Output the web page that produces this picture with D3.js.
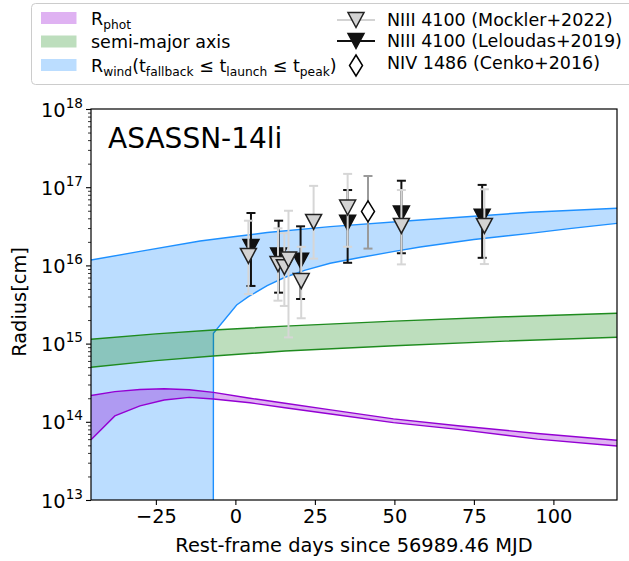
<!DOCTYPE html>
<html><head><meta charset="utf-8">
<script src="https://cdn.jsdelivr.net/npm/d3@7"></script>
<style>
body{margin:0;background:#fff;}
text{font-family:"DejaVu Sans",sans-serif;fill:#000;}
</style>
</head><body>
<svg id="c" width="629" height="561"></svg>
<script>
// ---------- data ----------
const xDomain = [-45.4, 120];
const yDomain = [1e13, 1e18];
const xTicks = [-25, 0, 25, 50, 75, 100];
const yTickExps = [13, 14, 15, 16, 17, 18];

// photosphere radius band
const photDays  = [-45.4, -37.9, -30.0, -22.4, -14.5, -6.9, 4.6, 15.6, 30, 49.7, 70, 95, 120];
const photUpper = [2.17e14, 2.43e14, 2.59e14, 2.65e14, 2.57e14, 2.38e14, 2.0e14, 1.73e14, 1.42e14, 1.09e14, 8.9e13, 7.1e13, 5.8e13];
const photLower = [5.9e13, 1.19e14, 1.6e14, 1.9e14, 2.05e14, 1.96e14, 1.75e14, 1.51e14, 1.26e14, 9.75e13, 8.0e13, 6.0e13, 4.9e13];

// semi-major axis band
const smaDays  = [-45.4, -25, -6.9, 15.6, 50, 85, 120];
const smaUpper = [1.135e15, 1.33e15, 1.49e15, 1.675e15, 1.94e15, 2.2e15, 2.44e15];
const smaLower = [4.98e14, 6.05e14, 6.93e14, 8.04e14, 9.4e14, 1.076e15, 1.205e15];

// wind radius band
const windUpDays = [-45.4, -30, -11.1, 0, 10, 29.8, 58.1, 92.7, 120];
const windUpper  = [1.17e16, 1.51e16, 2.05e16, 2.34e16, 2.63e16, 3.13e16, 3.81e16, 4.78e16, 5.37e16];
const windLoDays = [-45.4, -6.95, -6.9, 0.4, 4.1, 10, 15.6, 22, 29.8, 39.2, 50, 58.1, 75, 92.7, 105, 120];
const windLower  = [1e12, 1e12, 1.355e15, 3.12e15, 3.98e15, 5.5e15, 7.05e15, 8.71e15, 1.064e16, 1.26e16, 1.51e16, 1.72e16, 2.14e16, 2.57e16, 2.95e16, 3.45e16];

// NIII 4100 (Mockler+2022)
const mockDays = [4.1, 13.4, 15.4, 16.7, 20.7, 24.6, 35.3, 52.2, 78.3];
const mockR    = [1.32e16, 1.04e16, 9.5e15, 1.19e16, 6.3e15, 3.6e16, 5.5e16, 3.2e16, 3.2e16];
const mockLo   = [4.3e15, 3.54e15, 3.03e15, 1.2e15, 2.11e15, 1.22e16, 1.73e16, 1.03e16, 1.04e16];
const mockHi   = [3.73e16, 2.98e16, 2.58e16, 5.0e16, 1.73e16, 1.04e17, 1.48e17, 9.2e16, 9.4e16];

// NIII 4100 (Leloudas+2019)
const lelDays = [4.9, 13.6, 20.5, 35.3, 52.2, 77.6];
const lelR    = [1.72e16, 1.34e16, 1.15e16, 3.5e16, 4.6e16, 4.2e16];
const lelLo   = [5.46e15, 4.48e15, 3.72e15, 1.08e16, 1.43e16, 1.25e16];
const lelHi   = [4.68e16, 3.73e16, 3.16e16, 9.2e16, 1.21e17, 1.07e17];

// NIV 1486 (Cenko+2016)
const cenDays = [41.7];
const cenR    = [4.9e16];
const cenLo   = [1.64e16];
const cenHi   = [1.39e17];

const titleText = "ASASSN-14li";
const xLabel = "Rest-frame days since 56989.46 MJD";
const yLabel = "Radius[cm]";
// legend labels as [text, isSubscript] pieces
const bandLabels = [
  [["R",0],["phot",1]],
  [["semi-major axis",0]],
  [["R",0],["wind",1],["(t",0],["fallback",1],[" \u2264 t",0],["launch",1],[" \u2264 t",0],["peak",1],[")",0]]
];
const pointLabels = ["NIII 4100 (Mockler+2022)", "NIII 4100 (Leloudas+2019)", "NIV 1486 (Cenko+2016)"];

// ---------- drawing ----------
const svg = d3.select("#c");
const M = {l:91, r:617, t:109, b:500};
const x = d3.scaleLinear().domain(xDomain).range([M.l, M.r]);
const y = d3.scaleLog().domain(yDomain).range([M.b, M.t]);

svg.append("defs").append("clipPath").attr("id","clip")
  .append("rect").attr("x",M.l).attr("y",M.t).attr("width",M.r-M.l).attr("height",M.b-M.t);
const g = svg.append("g").attr("clip-path","url(#clip)");

const BLUE="#1e90ff", GREEN="#1f8b1f", PURPLE="#9400d3";
function band(dU, vU, dL, vL, fill, edge, op){
  const up = dU.map((d,i)=>[x(d), y(vU[i])]);
  const lo = dL.map((d,i)=>[x(d), y(vL[i])]);
  const line = d3.line();
  g.append("path").attr("d", line(up.concat(lo.slice().reverse()))+"Z")
    .attr("fill", fill).attr("fill-opacity", op).attr("stroke","none");
  g.append("path").attr("d", line(up)).attr("fill","none").attr("stroke",edge).attr("stroke-width",1.4);
  g.append("path").attr("d", line(lo)).attr("fill","none").attr("stroke",edge).attr("stroke-width",1.4);
}
band(windUpDays, windUpper, windLoDays, windLower, BLUE, BLUE, 0.3);
band(smaDays, smaUpper, smaDays, smaLower, "#008000", GREEN, 0.26);
band(photDays, photUpper, photDays, photLower, PURPLE, PURPLE, 0.3);

const triDown = "M-8,-7.5L8,-7.5L0,7.5Z";
const diamond = "M0,-10.5L6.5,0L0,10.5L-6.5,0Z";
function errSeries(days, vals, lo, hi, o){
  const gg = g.append("g");
  days.forEach((d,i)=>{
    const cx = x(d);
    gg.append("line").attr("x1",cx).attr("x2",cx).attr("y1",y(lo[i])).attr("y2",y(hi[i]))
      .attr("stroke",o.err).attr("stroke-width",2);
    [lo[i],hi[i]].forEach(v=>gg.append("line").attr("x1",cx-4.5).attr("x2",cx+4.5)
      .attr("y1",y(v)).attr("y2",y(v)).attr("stroke",o.err).attr("stroke-width",2));
  });
  days.forEach((d,i)=>{
    gg.append("path").attr("d",o.shape).attr("transform",`translate(${x(d)},${y(vals[i])})`)
      .attr("fill",o.fill).attr("stroke",o.edge).attr("stroke-width",1.5).attr("stroke-linejoin","miter");
  });
}
errSeries(lelDays, lelR, lelLo, lelHi, {err:"#111", fill:"#111", edge:"#111", shape:triDown});
errSeries(mockDays, mockR, mockLo, mockHi, {err:"#d6d6d6", fill:"#d3d3d3", edge:"#222", shape:triDown});
errSeries(cenDays, cenR, cenLo, cenHi, {err:"#9a9a9a", fill:"#fff", edge:"#000", shape:diamond});

// axes
const xAxis = d3.axisBottom(x).tickValues(xTicks).tickSize(5).tickPadding(4)
  .tickFormat(d=>d<0?"\u2212"+Math.abs(d):String(d));
const gx = svg.append("g").attr("transform",`translate(0,${M.b})`).call(xAxis);
gx.select(".domain").remove();
gx.selectAll("text").attr("font-size",19.4).attr("font-family","DejaVu Sans").attr("fill","#000");
gx.selectAll("line").attr("stroke","#000").attr("stroke-width",1.1);

const minorVals = [];
yTickExps.slice(0,-1).forEach(e=>{ for(let k=2;k<=9;k++) minorVals.push(k*Math.pow(10,e)); });
const gym = svg.append("g").attr("transform",`translate(${M.l},0)`)
  .call(d3.axisLeft(y).tickValues(minorVals).tickSize(3).tickFormat(""));
gym.select(".domain").remove();
gym.selectAll("line").attr("stroke","#000").attr("stroke-width",0.8);

const majorVals = yTickExps.map(e=>Math.pow(10,e));
const gy = svg.append("g").attr("transform",`translate(${M.l},0)`)
  .call(d3.axisLeft(y).tickValues(majorVals).tickSize(5).tickFormat(""));
gy.select(".domain").remove();
gy.selectAll("line").attr("stroke","#000").attr("stroke-width",1.1);
yTickExps.forEach(e=>{
  const t = svg.append("text").attr("x",M.l-8).attr("y",y(Math.pow(10,e))+7.5)
    .attr("text-anchor","end").attr("font-size",19.4);
  t.append("tspan").text("10");
  t.append("tspan").attr("font-size",13.6).attr("dy",-9).text(String(e));
});

svg.append("rect").attr("x",M.l).attr("y",M.t).attr("width",M.r-M.l).attr("height",M.b-M.t)
  .attr("fill","none").attr("stroke","#000").attr("stroke-width",1.2);

// labels
svg.append("text").attr("x",(M.l+M.r)/2).attr("y",552).attr("text-anchor","middle")
  .attr("font-size",19.4).text(xLabel);
svg.append("text").attr("transform","translate(26,302) rotate(-90)").attr("text-anchor","middle")
  .attr("font-size",19.4).text(yLabel);
svg.append("text").attr("x",108).attr("y",148).attr("font-size",28).text(titleText);

// legend
const L = svg.append("g");
L.append("rect").attr("x",31.5).attr("y",3.5).attr("width",640).attr("height",81).attr("rx",4)
  .attr("fill","#fff").attr("fill-opacity",0.85).attr("stroke","#cccccc").attr("stroke-width",1);
const FS = 17.5;
const bandCols = [[PURPLE,0.3],["#008000",0.26],[BLUE,0.3]];
const bandRowsY = [24.5, 48, 71.5];
bandLabels.forEach((pieces,i)=>{
  L.append("rect").attr("x",41).attr("y",bandRowsY[i]-12.5).attr("width",35.5).attr("height",12)
    .attr("fill",bandCols[i][0]).attr("fill-opacity",bandCols[i][1]);
  const t = L.append("text").attr("x",91).attr("y",bandRowsY[i]).attr("font-size",FS);
  let sub = 0;
  pieces.forEach(([s,isSub])=>{
    const ts = t.append("tspan").text(s);
    if(isSub && !sub){ ts.attr("font-size",FS*0.7).attr("dy",4); sub=1; }
    else if(!isSub && sub){ ts.attr("dy",-4); sub=0; }
    else if(isSub){ ts.attr("font-size",FS*0.7); }
  });
});
const ptRowsY = [26, 47, 68.5];
const ptMarkY = [20, 41, 65.5];
const ptStyles = [
  {line:"#d3d3d3", fill:"#d3d3d3", edge:"#222", shape:triDown},
  {line:"#111", fill:"#111", edge:"#111", shape:triDown},
  {line:null, fill:"#fff", edge:"#000", shape:diamond}
];
pointLabels.forEach((lab,i)=>{
  const s = ptStyles[i];
  if(s.line) L.append("line").attr("x1",337).attr("x2",375).attr("y1",ptMarkY[i]).attr("y2",ptMarkY[i])
    .attr("stroke",s.line).attr("stroke-width",2);
  L.append("path").attr("d",s.shape).attr("transform",`translate(356,${ptMarkY[i]})`)
    .attr("fill",s.fill).attr("stroke",s.edge).attr("stroke-width",1.5);
  L.append("text").attr("x",387).attr("y",ptRowsY[i]).attr("font-size",FS).text(lab);
});
</script>
</body></html>
